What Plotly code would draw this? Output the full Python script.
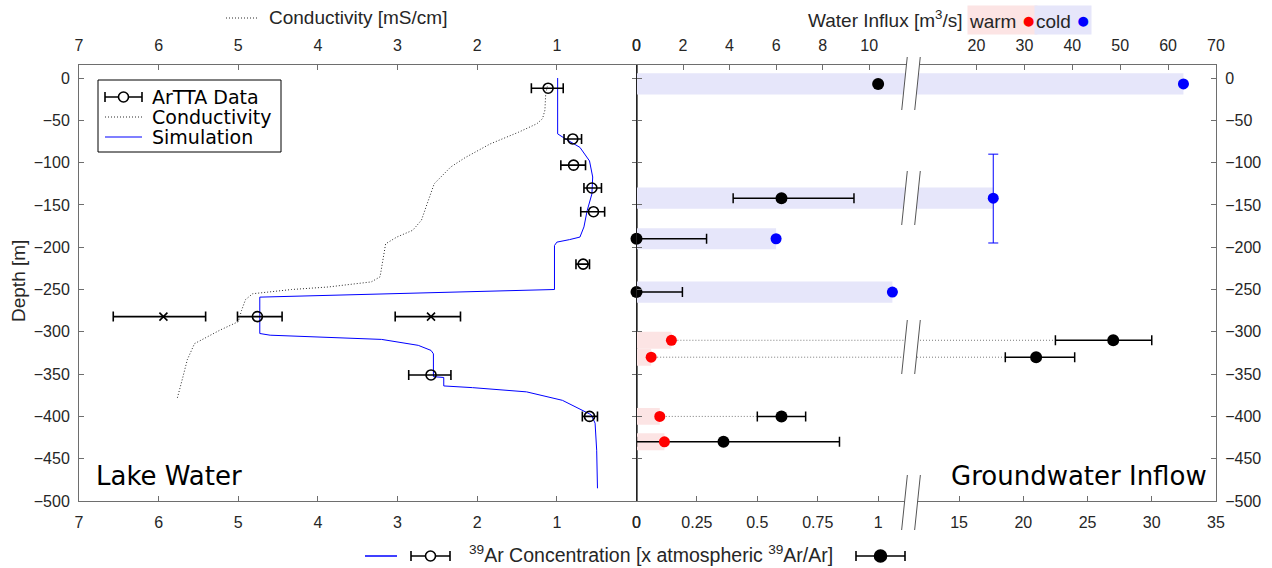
import plotly.graph_objects as go

# ---------------- data ----------------
# Lake water profile (left panel): ArTTA 39Ar data [x atmospheric]
lake_depth = [-12, -72, -103, -130, -158, -220, -282, -351, -400]
lake_ar = [1.11, 0.80, 0.79, 0.56, 0.54, 0.67, 4.76, 2.58, 0.59]
lake_ar_low = [0.92, 0.69, 0.64, 0.44, 0.40, 0.59, 4.45, 2.33, 0.49]
lake_ar_high = [1.32, 0.91, 0.95, 0.66, 0.70, 0.76, 5.01, 2.86, 0.68]

# additional x-marked values at -282 m
alt_depth = [-282, -282]
alt_ar = [5.94, 2.58]
alt_ar_low = [5.41, 2.21]
alt_ar_high = [6.57, 3.03]

# conductivity profile [mS/cm]
cond_depth = [-10, -19, -38, -48, -54, -64, -78, -94, -105, -125, -149, -168, -180, -188,
              -196, -216, -235, -241, -247, -250, -255, -262, -275, -288, -298, -314, -333,
              -355, -380]
cond_value = [1.12, 1.14, 1.15, 1.18, 1.25, 1.48, 1.84, 2.15, 2.33, 2.54, 2.63, 2.70, 2.81, 3.01,
              3.15, 3.19, 3.22, 3.33, 3.87, 4.33, 4.82, 4.91, 4.96, 5.00, 5.23, 5.55, 5.64,
              5.70, 5.77]

# simulated 39Ar profile
sim_depth = [0, -66, -72, -82, -98, -117, -137, -157, -176, -188, -191, -194, -198, -250, -259,
             -302, -304, -309, -316, -322, -326, -353, -354, -364, -366, -371, -381, -391, -398,
             -408, -440, -485]
sim_value = [0.99, 0.99, 0.89, 0.71, 0.59, 0.55, 0.56, 0.62, 0.66, 0.71, 0.84, 1.0, 1.03, 1.03,
             4.73, 4.73, 4.6, 3.2, 2.74, 2.58, 2.55, 2.55, 2.42, 2.42, 2.06, 1.38, 0.93, 0.71,
             0.57, 0.52, 0.50, 0.49]

# Groundwater inflow (right panel) - cold inflows
cold_depth = [-7, -142, -190, -253]
cold_influx = [63.2, 23.5, 6.0, 11.0]           # m3/s
cold_depth_top = [None, -90, None, None]        # depth uncertainty
cold_depth_bot = [None, -195, None, None]
cold_ar = [1.0, 0.60, 0.0, 0.0]
cold_ar_low = [None, 0.40, 0.0, 0.0]
cold_ar_high = [None, 0.90, 0.29, 0.19]

# warm inflows
warm_depth = [-310, -330, -400, -430]
warm_influx = [1.5, 0.63, 1.0, 1.2]
warm_ar = [27.0, 21.0, 0.60, 0.36]
warm_ar_low = [22.5, 18.6, 0.50, 0.0]
warm_ar_high = [30.0, 24.0, 0.70, 0.84]

# axis tick labels
left_ticks = [0, 1, 2, 3, 4, 5, 6, 7]
depth_ticks = [0, -50, -100, -150, -200, -250, -300, -350, -400, -450, -500]
bot_a_ticks = [0, 0.25, 0.5, 0.75, 1]
bot_a_text = ["0", "0.25", "0.5", "0.75", "1"]
bot_b_ticks = [15, 20, 25, 30, 35]
top_a_ticks = [0, 2, 4, 6, 8, 10]
top_b_ticks = [20, 30, 40, 50, 60, 70]

# ---------------- layout geometry ----------------
W, H = 1272, 568
L, R, T, B = 79, 1216, 65, 501
PW, PH = R - L, B - T


def PX(px):
    return (px - L) / PW


def PY(py):
    return (B - py) / PH


D_LEFT = [0, PX(636.5)]
D_A = [PX(636.5), PX(911)]
D_B = [PX(911), 1.0]

BOT_A = [0, 1.136]
BOT_B = [11.26, 35]
TOP_A = [0, 11.8]
TOP_B = [6.33, 70]
Y_RANGE = [-500, 15.4]

FRAME = "#6e6e6e"
TEXT = "#262626"
TICKFONT = "Liberation Sans, Arial, sans-serif"
LAV = "#e6e6fa"
PINK = "#fce4e4"
RED = "#ff0000"
BLUE = "#0000ff"
DOT = "1px,2px"


def diff(a, b):
    return [None if (x is None or y is None) else x - y for x, y in zip(a, b)]


fig = go.Figure()

# ---------------- left panel ----------------
fig.add_trace(go.Scatter(x=cond_value, y=cond_depth, mode="lines", xaxis="x2", yaxis="y",
                         line=dict(color="#2a2a2a", width=1, dash=DOT), hoverinfo="skip"))
fig.add_trace(go.Scatter(x=sim_value, y=sim_depth, mode="lines", xaxis="x", yaxis="y",
                         line=dict(color=BLUE, width=1), hoverinfo="skip"))
fig.add_trace(go.Scatter(
    x=lake_ar, y=lake_depth, mode="markers", xaxis="x", yaxis="y",
    marker=dict(symbol="circle-open", size=10, color="black", line=dict(width=1.6, color="black")),
    error_x=dict(type="data", symmetric=False, array=diff(lake_ar_high, lake_ar),
                 arrayminus=diff(lake_ar, lake_ar_low), color="black", thickness=1.6, width=5),
    hoverinfo="skip"))
fig.add_trace(go.Scatter(
    x=alt_ar, y=alt_depth, mode="markers", xaxis="x", yaxis="y",
    marker=dict(symbol="x-thin-open", size=8, color="black", line=dict(width=1.6, color="black")),
    error_x=dict(type="data", symmetric=False, array=diff(alt_ar_high, alt_ar),
                 arrayminus=diff(alt_ar, alt_ar_low), color="black", thickness=1.6, width=5),
    hoverinfo="skip"))

# ---------------- right panel ----------------
shapes = []


def bar_shapes(depths, values, half, color):
    for d, v in zip(depths, values):
        if v <= TOP_A[1]:
            shapes.append(dict(type="rect", xref="x5", yref="y", x0=0, x1=v, y0=d - half, y1=d + half,
                               fillcolor=color, line=dict(width=0), layer="below"))
        else:
            shapes.append(dict(type="rect", xref="x5", yref="y", x0=0, x1=TOP_A[1], y0=d - half,
                               y1=d + half, fillcolor=color, line=dict(width=0), layer="below"))
            shapes.append(dict(type="rect", xref="x6", yref="y", x0=TOP_B[0], x1=v, y0=d - half,
                               y1=d + half, fillcolor=color, line=dict(width=0), layer="below"))


bar_shapes(cold_depth, cold_influx, 12.5, LAV)
bar_shapes(warm_depth, warm_influx, 10, PINK)

# dotted connectors from warm inflow point to the Ar data point (converted to bottom axis units)
ratio = BOT_A[1] / TOP_A[1]
ca_x, ca_y, cb_x, cb_y = [], [], [], []
for d, v, lo, a in zip(warm_depth, warm_influx, warm_ar_low, warm_ar):
    start = v * ratio
    if lo <= start:
        continue
    if lo <= BOT_A[1]:
        ca_x += [start, lo, None]
        ca_y += [d, d, None]
    else:
        ca_x += [start, BOT_A[1], None]
        ca_y += [d, d, None]
        cb_x += [BOT_B[0], lo, None]
        cb_y += [d, d, None]
fig.add_trace(go.Scatter(x=ca_x, y=ca_y, mode="lines", xaxis="x3", yaxis="y",
                         line=dict(color="#7a7a7a", width=1, dash=DOT), hoverinfo="skip"))
fig.add_trace(go.Scatter(x=cb_x, y=cb_y, mode="lines", xaxis="x4", yaxis="y",
                         line=dict(color="#7a7a7a", width=1, dash=DOT), hoverinfo="skip"))


def split(vals, lim):
    a = [i for i, v in enumerate(vals) if v <= lim]
    b = [i for i, v in enumerate(vals) if v > lim]
    return a, b


def pick(lst, idx):
    return [lst[i] for i in idx]


# black Ar points (bottom axes)
all_depth = cold_depth + warm_depth
all_ar = cold_ar + warm_ar
all_lo = cold_ar_low + warm_ar_low
all_hi = cold_ar_high + warm_ar_high
ia, ib = split(all_ar, BOT_A[1])
for idx, xa in ((ia, "x3"), (ib, "x4")):
    xs = pick(all_ar, idx)
    fig.add_trace(go.Scatter(
        x=xs, y=pick(all_depth, idx), mode="markers", xaxis=xa, yaxis="y", cliponaxis=False,
        marker=dict(symbol="circle", size=12, color="black"),
        error_x=dict(type="data", symmetric=False, array=diff(pick(all_hi, idx), xs),
                     arrayminus=diff(xs, pick(all_lo, idx)), color="black", thickness=1.5, width=5),
        hoverinfo="skip"))

# cold inflow (blue)
ia, ib = split(cold_influx, TOP_A[1])
for idx, xa in ((ia, "x5"), (ib, "x6")):
    ds = pick(cold_depth, idx)
    fig.add_trace(go.Scatter(
        x=pick(cold_influx, idx), y=ds, mode="markers", xaxis=xa, yaxis="y", cliponaxis=False,
        marker=dict(symbol="circle", size=11, color=BLUE),
        error_y=dict(type="data", symmetric=False, array=diff(pick(cold_depth_top, idx), ds),
                     arrayminus=diff(ds, pick(cold_depth_bot, idx)), color=BLUE, thickness=1, width=5),
        hoverinfo="skip"))

# warm inflow (red)
fig.add_trace(go.Scatter(x=warm_influx, y=warm_depth, mode="markers", xaxis="x5", yaxis="y",
                         cliponaxis=False, marker=dict(symbol="circle", size=11, color=RED),
                         hoverinfo="skip"))

# empty helper traces so that every axis is drawn
for xa, ya in (("x4", "y2"), ("x3", "y3"), ("x6", "y"), ("x2", "y")):
    fig.add_trace(go.Scatter(x=[], y=[], xaxis=xa, yaxis=ya, hoverinfo="skip"))

# ---------------- axes ----------------
common = dict(showline=True, linecolor=FRAME, linewidth=1, ticks="inside", ticklen=5,
              tickcolor=FRAME, tickwidth=1, showgrid=False, zeroline=False,
              tickfont=dict(family=TICKFONT, size=16, color=TEXT), fixedrange=True)

fig.update_layout(
    width=W, height=H, margin=dict(l=L, r=W - R, t=T, b=H - B),
    paper_bgcolor="white", plot_bgcolor="white", showlegend=False,
    xaxis=dict(common, domain=D_LEFT, range=[7, 0], tickvals=left_ticks, anchor="y", side="bottom",
               ticklabelstandoff=7),
    xaxis2=dict(common, range=[7, 0], tickvals=left_ticks, overlaying="x", side="top", anchor="y",
                ticklabelstandoff=7),
    xaxis3=dict(common, domain=D_A, range=BOT_A, tickvals=bot_a_ticks, ticktext=bot_a_text,
                anchor="y", side="bottom", ticklabelstandoff=7),
    xaxis4=dict(common, domain=D_B, range=BOT_B, tickvals=bot_b_ticks, anchor="y", side="bottom",
                ticklabelstandoff=7),
    xaxis5=dict(common, range=TOP_A, tickvals=top_a_ticks, overlaying="x3", side="top", anchor="y",
                ticklabelstandoff=7),
    xaxis6=dict(common, range=TOP_B, tickvals=top_b_ticks, overlaying="x4", side="top", anchor="y",
                ticklabelstandoff=7),
    yaxis=dict(common, domain=[0, 1], range=Y_RANGE, tickvals=depth_ticks, anchor="x", side="left",
               mirror="ticks", ticklabelstandoff=5),
    yaxis2=dict(common, range=Y_RANGE, tickvals=depth_ticks, overlaying="y", anchor="x4",
                side="right", ticklabelstandoff=5),
    yaxis3=dict(common, range=Y_RANGE, tickvals=depth_ticks, overlaying="y", anchor="x3",
                side="left", showticklabels=False, linecolor="#222222"),
)

# ---------------- axis breaks ----------------
for top, bot in ((57, 110), (171, 225), (320, 374), (475, 530)):
    h = bot - top
    sl = 0.104 * h / 2
    xl_t, xr_t = 907.25 + (sl - 2.75), 920.25 + (sl - 2.75)
    xl_b, xr_b = xl_t - 2 * sl, xr_t - 2 * sl
    path = "M {} {} L {} {} L {} {} L {} {} Z".format(PX(xl_t), PY(top), PX(xr_t), PY(top),
                                                        PX(xr_b), PY(bot), PX(xl_b), PY(bot))
    shapes.append(dict(type="path", xref="paper", yref="paper", path=path, fillcolor="white",
                       line=dict(width=0)))
    for xt, xb in ((xl_t, xl_b), (xr_t, xr_b)):
        shapes.append(dict(type="line", xref="paper", yref="paper", x0=PX(xt), y0=PY(top),
                           x1=PX(xb), y1=PY(bot), line=dict(color="#555555", width=1)))

# ---------------- custom legends ----------------
def errbar_glyph(x0, x1, y, filled, r):
    xc = (x0 + x1) / 2
    out = [dict(type="line", xref="paper", yref="paper", x0=PX(x0), x1=PX(x1), y0=PY(y), y1=PY(y),
                line=dict(color="black", width=1.6)),
           dict(type="line", xref="paper", yref="paper", x0=PX(x0), x1=PX(x0), y0=PY(y - 5),
                y1=PY(y + 5), line=dict(color="black", width=1.6)),
           dict(type="line", xref="paper", yref="paper", x0=PX(x1), x1=PX(x1), y0=PY(y - 5),
                y1=PY(y + 5), line=dict(color="black", width=1.6)),
           dict(type="circle", xref="paper", yref="paper", x0=PX(xc - r), x1=PX(xc + r),
                y0=PY(y - r), y1=PY(y + r), fillcolor="black" if filled else "white",
                line=dict(color="black", width=1.6))]
    return out


# legend box in left panel
shapes.append(dict(type="rect", xref="paper", yref="paper", x0=PX(98), x1=PX(281), y0=PY(152),
                   y1=PY(80), fillcolor="white", line=dict(color="black", width=1)))
shapes += errbar_glyph(105, 142, 97, False, 5)
shapes.append(dict(type="line", xref="paper", yref="paper", x0=PX(105), x1=PX(142), y0=PY(117),
                   y1=PY(117), line=dict(color="#2a2a2a", width=1, dash=DOT)))
shapes.append(dict(type="line", xref="paper", yref="paper", x0=PX(105), x1=PX(142), y0=PY(137),
                   y1=PY(137), line=dict(color=BLUE, width=1.2)))

# bottom legend
shapes.append(dict(type="line", xref="paper", yref="paper", x0=PX(365), x1=PX(397), y0=PY(556),
                   y1=PY(556), line=dict(color=BLUE, width=1.5)))
shapes += errbar_glyph(411, 450, 556, False, 5)
shapes += errbar_glyph(856, 905, 556, True, 6)

# top-left title sample
shapes.append(dict(type="line", xref="paper", yref="paper", x0=PX(226), x1=PX(259), y0=PY(18),
                   y1=PY(18), line=dict(color="#2a2a2a", width=1, dash=DOT)))

fig.update_layout(shapes=shapes)

# ---------------- annotations ----------------
ann = []
lfont = dict(family="DejaVu Sans", size=19, color="black")
for txt, y in (("ArTTA Data", 97), ("Conductivity", 117), ("Simulation", 137)):
    ann.append(dict(text=txt, x=PX(150), y=PY(y), xref="paper", yref="paper", xanchor="left",
                    yanchor="middle", showarrow=False, font=lfont))

tfont = dict(family=TICKFONT, size=19, color=TEXT)
ann.append(dict(text="Conductivity [mS/cm]", x=PX(267), y=PY(18), xref="paper", yref="paper",
                xanchor="left", yanchor="middle", showarrow=False, font=tfont))
ann.append(dict(text="Water Influx [m<sup>3</sup>/s]", x=PX(965), y=PY(19), xref="paper",
                yref="paper", xanchor="right", yanchor="middle", showarrow=False, font=tfont))
ann.append(dict(text='warm <span style="color:#ff0000;font-size:23px">●</span>', x=PX(967),
                y=PY(20), xref="paper", yref="paper", xanchor="left", yanchor="middle",
                showarrow=False, font=tfont, bgcolor=PINK, borderpad=1))
ann.append(dict(text='cold <span style="color:#0000ff;font-size:23px">●</span>', x=PX(1034),
                y=PY(20), xref="paper", yref="paper", xanchor="left", yanchor="middle",
                showarrow=False, font=tfont, bgcolor=LAV, borderpad=1))
ann.append(dict(text="<sup>39</sup>Ar Concentration [x atmospheric <sup>39</sup>Ar/Ar]", x=PX(467),
                y=PY(554), xref="paper", yref="paper", xanchor="left", yanchor="middle",
                showarrow=False, font=dict(family=TICKFONT, size=19.5, color=TEXT)))
ann.append(dict(text="Depth [m]", x=PX(18), y=PY(281), xref="paper", yref="paper",
                xanchor="center", yanchor="middle", textangle=-90, showarrow=False,
                font=dict(family=TICKFONT, size=19, color=TEXT)))
bigfont = dict(family="DejaVu Sans", size=26, color="black")
ann.append(dict(text="Lake Water", x=PX(94), y=PY(476), xref="paper", yref="paper",
                xanchor="left", yanchor="middle", showarrow=False, font=bigfont))
ann.append(dict(text="Groundwater Inflow", x=PX(1209), y=PY(476), xref="paper", yref="paper",
                xanchor="right", yanchor="middle", showarrow=False, font=bigfont))
fig.update_layout(annotations=ann)

fig.write_html("out.html")
